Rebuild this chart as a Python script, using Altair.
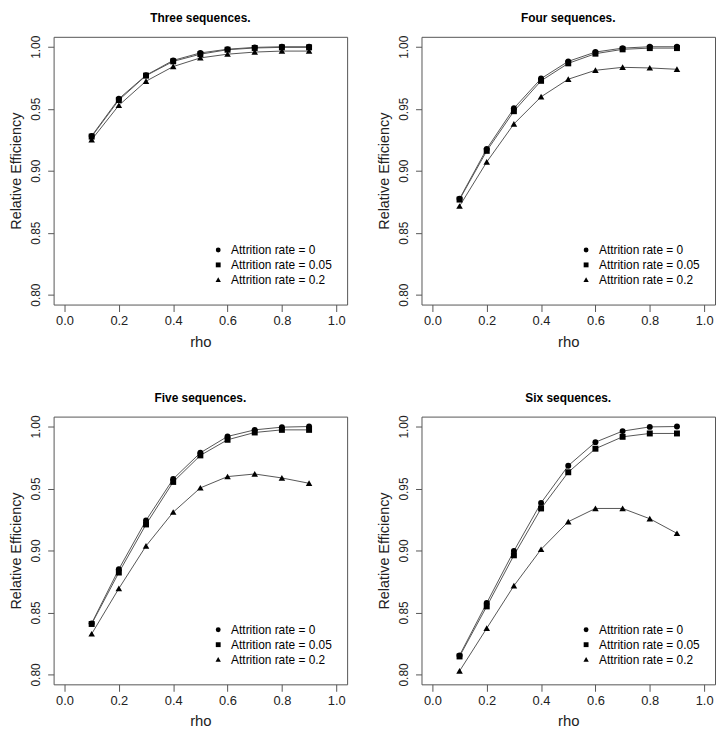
import altair as alt
import pandas as pd

rho = [0.1, 0.2, 0.3, 0.4, 0.5, 0.6, 0.7, 0.8, 0.9]
series_labels = ["Attrition rate = 0", "Attrition rate = 0.05", "Attrition rate = 0.2"]
panel_titles = ["Three sequences.", "Four sequences.", "Five sequences.", "Six sequences."]

three_a0 = [0.928, 0.958, 0.977, 0.989, 0.995, 0.998, 0.9995, 1.0, 1.0]
three_a05 = [0.9275, 0.957, 0.9767, 0.9882, 0.994, 0.9976, 0.999, 0.9995, 0.9995]
three_a2 = [0.925, 0.9527, 0.9722, 0.984, 0.991, 0.994, 0.9957, 0.9965, 0.9965]

four_a0 = [0.8773, 0.9176, 0.9503, 0.9743, 0.9882, 0.9957, 0.9989, 1.0, 1.0]
four_a05 = [0.8767, 0.916, 0.948, 0.9725, 0.9866, 0.9944, 0.9979, 0.9989, 0.9989]
four_a2 = [0.8714, 0.907, 0.9377, 0.9596, 0.9738, 0.981, 0.9834, 0.9829, 0.9818]

five_a0 = [0.8412, 0.8849, 0.9242, 0.9577, 0.9788, 0.992, 0.9973, 0.9995, 1.0]
five_a05 = [0.8407, 0.8822, 0.921, 0.9553, 0.9767, 0.9893, 0.9952, 0.9973, 0.9973]
five_a2 = [0.8327, 0.8693, 0.9036, 0.9309, 0.9505, 0.9596, 0.9617, 0.9585, 0.9542]

six_a0 = [0.8153, 0.8576, 0.8996, 0.9384, 0.9684, 0.9874, 0.9963, 0.9997, 1.0]
six_a05 = [0.8145, 0.8549, 0.8961, 0.9339, 0.9631, 0.9821, 0.9917, 0.9944, 0.9944]
six_a2 = [0.8027, 0.8372, 0.8715, 0.9009, 0.9232, 0.9339, 0.9339, 0.9256, 0.9138]

x_ticks = [0.0, 0.2, 0.4, 0.6, 0.8, 1.0]
y_ticks = [0.80, 0.85, 0.90, 0.95, 1.00]

TRIANGLE = "M0,-1L1.1,0.9L-1.1,0.9Z"


def panel(title, a0, a05, a2):
    rows = []
    for lab, vals in zip(series_labels, [a0, a05, a2]):
        for r, v in zip(rho, vals):
            rows.append({"rho": r, "eff": v, "series": lab})
    df = pd.DataFrame(rows)
    base = alt.Chart(df)
    x = alt.X(
        "rho:Q",
        scale=alt.Scale(domain=[-0.04, 1.04], nice=False, zero=False),
        axis=alt.Axis(
            values=x_ticks, format=".1f", title="rho",
            labelFontSize=13, titleFontSize=15, titleFontWeight="normal",
            tickSize=7, labelPadding=3, titlePadding=7,
        ),
    )
    y = alt.Y(
        "eff:Q",
        scale=alt.Scale(domain=[0.792, 1.008], nice=False, zero=False),
        axis=alt.Axis(
            values=y_ticks, format=".2f", title="Relative Efficiency",
            labelAngle=-90, labelAlign="center", labelBaseline="bottom",
            labelFontSize=12, titleFontSize=14.5, titleFontWeight="normal",
            tickSize=6, labelPadding=5, titlePadding=6,
        ),
    )
    lines = base.mark_line(color="#555", strokeWidth=1).encode(
        x=x, y=y, detail="series:N"
    )
    pts = base.mark_point(filled=True, color="black", size=36, opacity=1).encode(
        x=x,
        y=y,
        shape=alt.Shape(
            "series:N",
            scale=alt.Scale(domain=series_labels, range=["circle", "square", TRIANGLE]),
            legend=alt.Legend(
                title=None, orient="none", legendX=160, legendY=209,
                labelFontSize=12, labelColor="black", symbolSize=24,
                symbolFillColor="black", symbolStrokeWidth=0,
                rowPadding=3, labelOffset=7, padding=0,
            ),
        ),
    )
    return alt.layer(lines, pts).properties(
        width=296,
        height=270,
        title=alt.Title(title, fontSize=12, fontWeight="bold", anchor="middle",
                        frame="group", offset=10, color="black"),
    )


p1 = panel(panel_titles[0], three_a0, three_a05, three_a2)
p2 = panel(panel_titles[1], four_a0, four_a05, four_a2)
p3 = panel(panel_titles[2], five_a0, five_a05, five_a2)
p4 = panel(panel_titles[3], six_a0, six_a05, six_a2)

row1 = alt.hconcat(p1, p2, spacing=28).resolve_legend(shape="independent")
row2 = alt.hconcat(p3, p4, spacing=28).resolve_legend(shape="independent")

chart = (
    alt.vconcat(row1, row2, spacing=41)
    .resolve_legend(shape="independent")
    .properties(padding=0)
    .configure(font="Liberation Sans")
    .configure_view(stroke="#555", strokeWidth=1)
    .configure_axis(
        domain=False, grid=False, tickColor="#555", labelColor="#222",
        titleColor="#222",
    )
)

chart.save("out.html", embed_options={"renderer": "svg", "actions": False})
